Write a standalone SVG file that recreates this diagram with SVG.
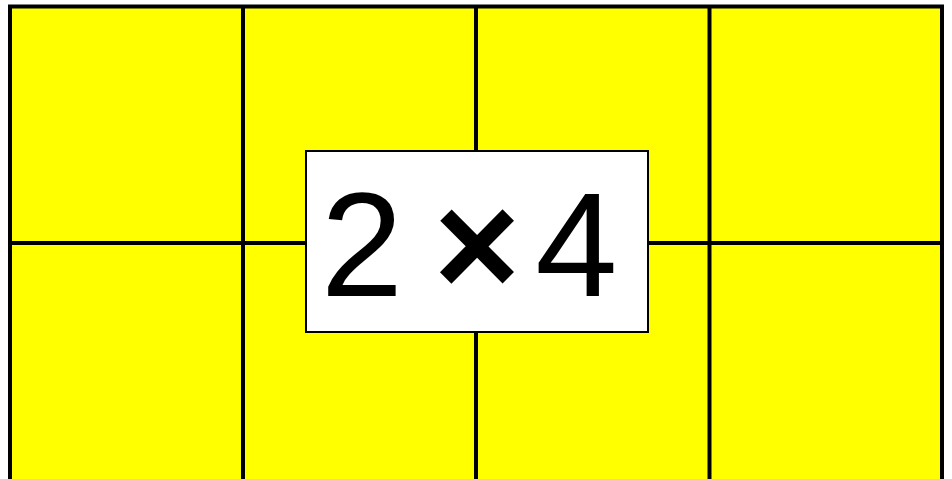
<svg xmlns="http://www.w3.org/2000/svg" width="952" height="479" viewBox="0 0 952 479">
  <style>
    .grid { stroke: #000; stroke-width: 4; fill: none; }
    .cells { fill: #ffff00; stroke: #000; stroke-width: 4; }
    .label { font-family: "Liberation Sans", Arial, sans-serif; font-size: 148px; fill: #000; text-anchor: middle; }
  </style>
  <rect x="0" y="0" width="952" height="479" fill="#fff"/>
  <g id="grid">
    <rect x="10" y="6.5" width="932" height="490" class="cells"/>
    <line x1="243" y1="6.5" x2="243" y2="490" class="grid" stroke-width="3.5"/>
    <line x1="476" y1="6.5" x2="476" y2="490" class="grid" stroke-width="3.5"/>
    <line x1="709.5" y1="6.5" x2="709.5" y2="490" class="grid" stroke-width="3.5"/>
    <line x1="10" y1="243" x2="942" y2="243" class="grid" stroke-width="3.5"/>
  </g>
  <g id="label">
    <rect x="306" y="151" width="342" height="181" fill="#fff" stroke="#000" stroke-width="2"/>
    <text class="label" y="296"><tspan x="362">2</tspan><tspan x="477" font-weight="bold">×</tspan><tspan x="576.5">4</tspan></text>
  </g>
</svg>
